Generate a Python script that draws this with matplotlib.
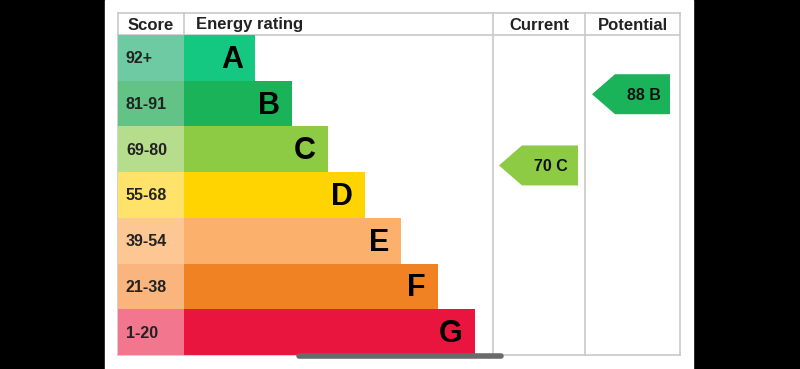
import matplotlib.pyplot as plt
from matplotlib.patches import Rectangle, Polygon

# EPC bands
ratings = ["A", "B", "C", "D", "E", "F", "G"]
score_ranges = ["92+", "81-91", "69-80", "55-68", "39-54", "21-38", "1-20"]
band_lo = [92, 81, 69, 55, 39, 21, 1]
band_hi = [100, 91, 80, 68, 54, 38, 20]
bar_colors = ["#14c882", "#1bb35a", "#8dcb45", "#ffd400", "#fbb06c", "#f08224", "#ea153e"]
score_colors = ["#6dcaa3", "#63c285", "#b5dd8c", "#ffe26a", "#fcc792", "#f9b57d", "#f2768e"]

current_score = 70
current_label = "70 C"
potential_score = 88
potential_label = "88 B"

FONT = "Liberation Sans"

fig = plt.figure(figsize=(8, 3.69), dpi=100)
fig.patch.set_facecolor("black")
ax = fig.add_axes([0, 0, 1, 1])
ax.set_xlim(0, 800)
ax.set_ylim(369, 0)
ax.axis("off")

# white page
ax.add_patch(Rectangle((105, 0), 588, 369, color="white", zorder=0))

left, top, header_h, row_h = 118, 13, 22, 45.7
score_w = 66
bar_x = left + score_w
col_cur, col_pot, right = 493, 585, 680
bottom = top + header_h + row_h * len(ratings)

grid = "#c9c9c9"
# table lines
ax.plot([left, right], [top, top], color=grid, lw=1.2, zorder=1)
ax.plot([left, right], [top + header_h, top + header_h], color=grid, lw=1.2, zorder=1)
ax.plot([left, right], [bottom, bottom], color=grid, lw=1.2, zorder=1)
for x in [left, bar_x, col_cur, col_pot, right]:
    ax.plot([x, x], [top, bottom], color=grid, lw=1.2, zorder=1)

hy = top + header_h / 2 + 1
hdr = dict(va="center", fontsize=12, fontweight="bold", family=FONT, color="#222222")
ax.text(left + score_w / 2, hy, "Score", ha="center", **hdr)
ax.text(bar_x + 12, hy, "Energy rating", ha="left", **hdr)
ax.text((col_cur + col_pot) / 2, hy, "Current", ha="center", **hdr)
ax.text((col_pot + right) / 2, hy, "Potential", ha="center", **hdr)

step = 36.6
for i, r in enumerate(ratings):
    y = top + header_h + i * row_h
    ax.add_patch(Rectangle((left, y), score_w, row_h, color=score_colors[i], lw=0, zorder=2))
    w = 71 + i * step
    ax.add_patch(Rectangle((bar_x, y), w, row_h, color=bar_colors[i], lw=0, zorder=2))
    ax.text(left + 8, y + row_h / 2 + 1, score_ranges[i], ha="left", va="center",
            fontsize=11.5, fontweight="bold", family=FONT, color="#222222", zorder=3)
    ax.text(bar_x + w - 12, y + row_h / 2 + 2, r, ha="right", va="center",
            fontsize=22, fontweight="bold", family=FONT, color="black", zorder=3)


def arrow_y(score):
    for i in range(len(ratings)):
        if band_lo[i] <= score <= band_hi[i]:
            frac = (band_hi[i] - score + 0.25) / (band_hi[i] - band_lo[i] + 1)
            return top + header_h + i * row_h + frac * row_h, i
    return None, None


def draw_arrow(score, label, x_tip, x_right):
    yc, i = arrow_y(score)
    h = 40
    pts = [(x_tip, yc), (x_tip + 23, yc - h / 2), (x_right, yc - h / 2),
           (x_right, yc + h / 2), (x_tip + 23, yc + h / 2)]
    ax.add_patch(Polygon(pts, closed=True, color=bar_colors[i], lw=0, zorder=3))
    ax.text((x_tip + 23 + x_right) / 2 + 1, yc + 1, label, ha="center", va="center",
            fontsize=11.5, fontweight="bold", family=FONT, color="#111111", zorder=4)


draw_arrow(current_score, current_label, 499, 578)
draw_arrow(potential_score, potential_label, 592, 670)

# scroll bar overlay
ax.plot([299, 501], [356, 356], color="#6a6a6a", lw=4, solid_capstyle="round", zorder=5)

fig.savefig("out.png", dpi=100, facecolor=fig.get_facecolor())
